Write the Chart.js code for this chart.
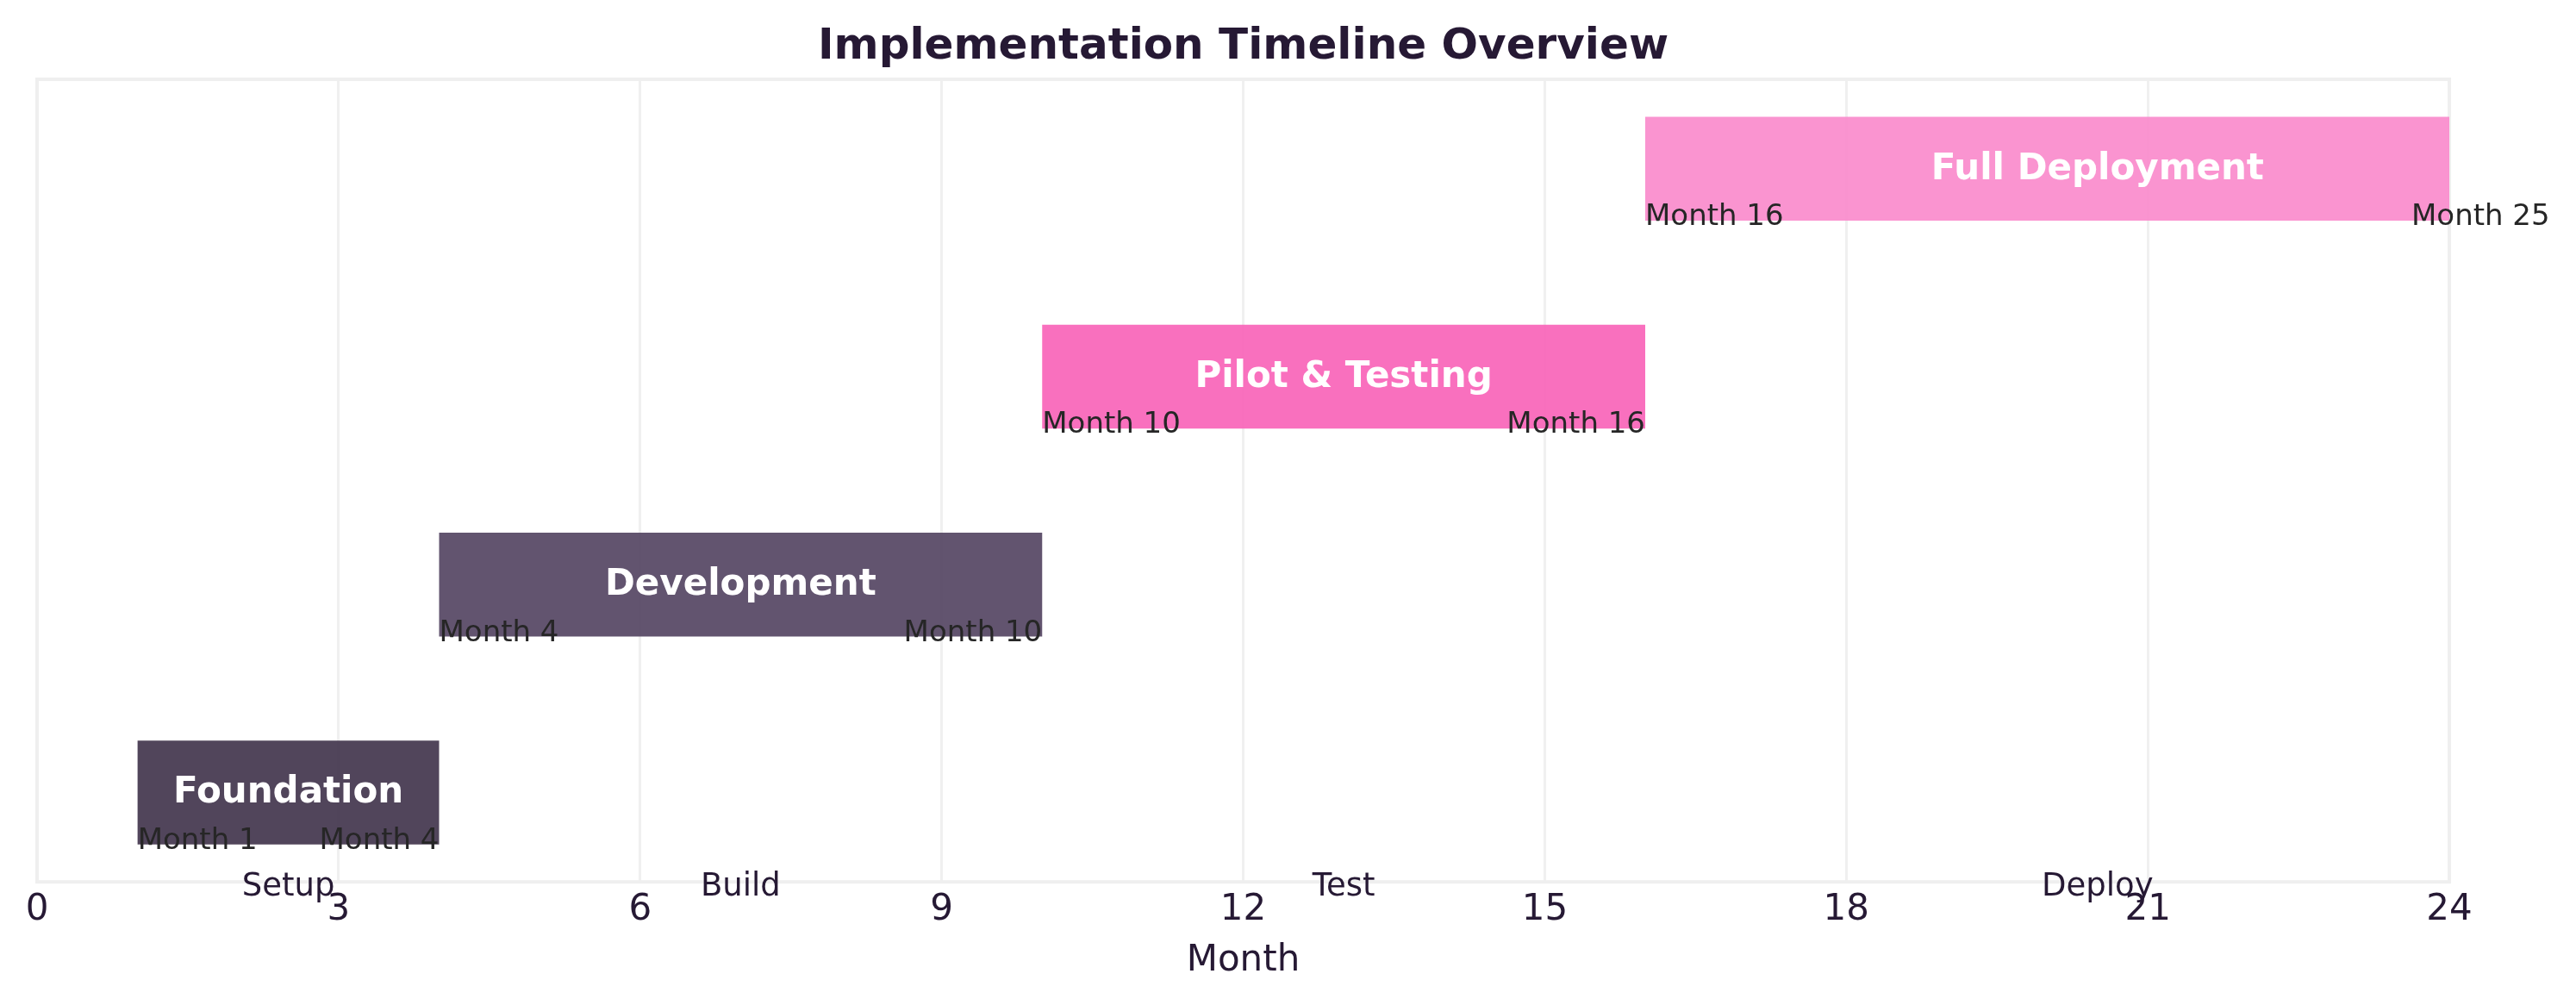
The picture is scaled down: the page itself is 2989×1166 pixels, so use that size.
<!DOCTYPE html>
<html>
<head>
<meta charset="utf-8">
<script src="https://cdn.jsdelivr.net/npm/chart.js@4/dist/chart.umd.min.js"></script>
<style>
html,body{margin:0;padding:0;background:#ffffff;}
canvas{display:block;}
</style>
</head>
<body>
<canvas id="c" width="2989" height="1166"></canvas>
<script>
const phases = ['Foundation', 'Development', 'Pilot & Testing', 'Full Deployment'];
const startMonths = [1, 4, 10, 16];
const endMonths = [4, 10, 16, 25];
const phaseShort = ['Setup', 'Build', 'Test', 'Deploy'];
const phaseColors = ['rgba(62,49,73,0.9)', 'rgba(81,65,95,0.9)', 'rgba(248,97,183,0.9)', 'rgba(249,136,203,0.9)'];
const xMin = 0, xMax = 24, xStep = 3;

const FONT = "'DejaVu Sans', sans-serif";
const DARK = '#261934';

const barData = phases.map((p, i) => ({ x: [startMonths[i], endMonths[i]], y: i }));

const labelPlugin = {
  id: 'labels',
  beforeDatasetsDraw(chart) {
    const { ctx, chartArea: a } = chart;
    ctx.save();
    ctx.strokeStyle = '#efefef';
    ctx.lineWidth = 4;
    ctx.strokeRect(a.left, a.top, a.right - a.left, a.bottom - a.top);
    ctx.restore();
  },
  afterDatasetsDraw(chart) {
    const { ctx, scales: { x, y }, chartArea: a } = chart;
    ctx.save();
    phases.forEach((p, i) => {
      const s = startMonths[i], e = endMonths[i];
      const cy = y.getPixelForValue(i);
      const bottom = y.getPixelForValue(i - 0.25);
      ctx.fillStyle = '#ffffff';
      ctx.font = 'bold 42px ' + FONT;
      ctx.textAlign = 'center';
      ctx.textBaseline = 'middle';
      ctx.fillText(p, x.getPixelForValue((s + e) / 2), cy + 1);
      ctx.fillStyle = '#262626';
      ctx.font = '34px ' + FONT;
      ctx.textBaseline = 'alphabetic';
      ctx.textAlign = 'left';
      ctx.fillText('Month ' + s, x.getPixelForValue(s), bottom + 5);
      ctx.textAlign = 'right';
      ctx.fillText('Month ' + e, x.getPixelForValue(e), bottom + 5);
      ctx.fillStyle = DARK;
      ctx.font = '37px ' + FONT;
      ctx.textAlign = 'center';
      ctx.fillText(phaseShort[i], x.getPixelForValue((s + e) / 2), a.bottom + 16);
    });
    ctx.restore();
  }
};

new Chart(document.getElementById('c'), {
  type: 'bar',
  data: {
    datasets: [{
      data: barData,
      backgroundColor: phaseColors,
      borderWidth: 0,
      barPercentage: 0.5,
      categoryPercentage: 1.0
    }]
  },
  options: {
    indexAxis: 'y',
    responsive: false,
    animation: false,
    events: [],
    layout: { padding: { left: 43, right: 147, top: 0, bottom: 26 } },
    plugins: {
      legend: { display: false },
      tooltip: { enabled: false },
      title: {
        display: true,
        text: 'Implementation Timeline Overview',
        color: DARK,
        font: { family: FONT, size: 50, weight: 'bold' },
        padding: { top: 25, bottom: 7 }
      }
    },
    scales: {
      x: {
        type: 'linear',
        min: xMin,
        max: xMax,
        ticks: { stepSize: xStep, color: DARK, font: { family: FONT, size: 42 }, padding: 8 },
        grid: { color: '#f0f0f0', lineWidth: 3, drawTicks: false },
        border: { display: false },
        title: { display: true, text: 'Month', color: DARK, font: { family: FONT, size: 42 }, padding: { top: 0, bottom: 0 } }
      },
      y: {
        type: 'linear',
        min: -0.43,
        max: 3.43,
        offset: false,
        display: false,
        afterBuildTicks: (s) => { s.ticks = phases.map((p, i) => ({ value: i })); }
      }
    }
  },
  plugins: [labelPlugin]
});
</script>
</body>
</html>
